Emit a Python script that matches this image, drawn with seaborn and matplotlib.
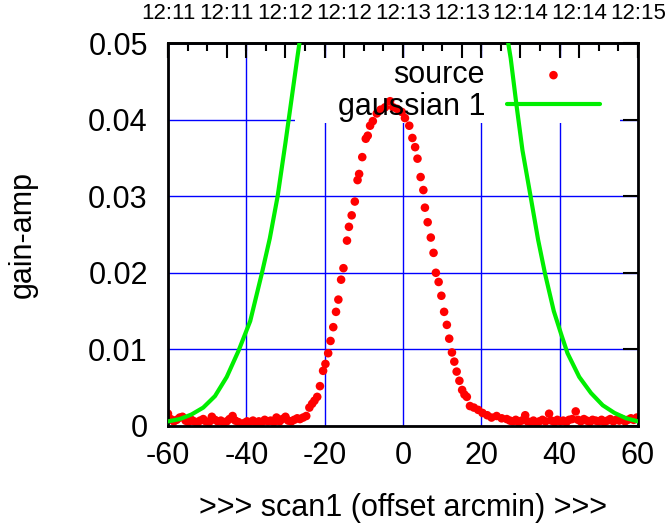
import matplotlib
matplotlib.use("Agg")
import matplotlib.pyplot as plt
from matplotlib.patches import Rectangle
from matplotlib.ticker import MultipleLocator
import seaborn as sns

# measured points (offset arcmin, gain-amp)
source_offset = [
    -60.0, -59.3, -58.5, -57.8, -57.0, -56.3, -55.5, -54.8, -54.0, -53.3,
    -52.5, -51.8, -51.0, -50.3, -49.5, -48.8, -48.0, -47.3, -46.5, -45.8,
    -45.0, -44.3, -43.5, -42.8, -42.0, -41.3, -40.5, -39.8, -39.0, -38.3,
    -37.5, -36.8, -36.0, -35.3, -34.5, -33.8, -33.0, -32.3, -31.5, -30.8,
    -30.0, -29.3, -28.5, -27.8, -27.0, -26.3, -25.5, -24.7, -23.9, -23.2,
    -22.6, -21.9, -21.2, -20.4, -19.8, -19.1, -18.5, -17.8, -17.1, -16.5,
    -15.8, -15.2, -14.3, -13.8, -13.1, -12.3, -11.6, -11.2, -10.4, -9.5,
    -9.0, -8.4, -7.7, -6.7, -5.7, -4.6, -3.3, -2.5, -1.5, -0.3,
    0.5, 1.6, 2.4, 3.1, 3.7, 4.5, 5.2, 5.6, 6.3, 7.1,
    7.8, 8.4, 9.1, 9.8, 10.5, 11.2, 11.8, 12.5, 13.1, 13.7,
    14.4, 15.1, 15.7, 16.3, 17.1, 18.1, 19.2, 20.3, 21.5, 22.6,
    23.9, 25.2, 26.5, 27.3, 28.0, 28.8, 29.5, 30.3, 31.2, 31.8,
    32.6, 33.3, 34.1, 34.8, 35.6, 36.4, 37.3, 37.9, 38.7, 39.4,
    40.2, 40.9, 41.7, 42.4, 43.2, 44.1, 44.7, 45.4, 46.2, 46.9,
    47.7, 48.4, 49.2, 49.9, 50.7, 51.4, 52.2, 52.9, 53.7, 54.4,
    55.2, 55.9, 56.7, 57.4, 58.2, 58.9, 59.7,
]
source_gain = [
    0.0016, 0.0009, 0.0006, 0.0008, 0.0011, 0.0012, 0.0007, 0.0005, 0.0008, 0.0006,
    0.0004, 0.0007, 0.0009, 0.0006, 0.0005, 0.0012, 0.0008, 0.0006, 0.0007, 0.0004,
    0.0006, 0.0009, 0.0013, 0.0007, 0.0005, -0.0002, 0.0004, 0.0006, 0.0005, 0.0007,
    0.0004, 0.0006, 0.0005, 0.0008, 0.0006, 0.0007, 0.0005, 0.0011, 0.0006, 0.0009,
    0.0012, 0.0007, 0.0006, 0.0008, 0.0010, 0.0009, 0.0011, 0.0013, 0.0024, 0.0029,
    0.0033, 0.0038, 0.0052, 0.0072, 0.0081, 0.0095, 0.0111, 0.0129, 0.0149, 0.0165,
    0.0191, 0.0206, 0.0242, 0.0260, 0.0275, 0.0293, 0.0321, 0.0329, 0.0351, 0.0375,
    0.0379, 0.0392, 0.0398, 0.0408, 0.0413, 0.0416, 0.0424, 0.0416, 0.0414, 0.0410,
    0.0402, 0.0392, 0.0376, 0.0364, 0.0349, 0.0325, 0.0308, 0.0285, 0.0266, 0.0246,
    0.0226, 0.0200, 0.0188, 0.0170, 0.0149, 0.0132, 0.0114, 0.0096, 0.0084, 0.0071,
    0.0059, 0.0047, 0.0041, 0.0038, 0.0026, 0.0024, 0.0021, 0.0017, 0.0014, 0.0011,
    0.0013, 0.0010, 0.0009, 0.0007, 0.0006, 0.0008, 0.0005, 0.0007, 0.0014, 0.0006,
    0.0005, 0.0007, 0.0004, 0.0006, 0.0008, 0.0006, 0.0016, 0.0007, 0.0005, 0.0008,
    0.0006, 0.0007, 0.0005, 0.0008, 0.0009, 0.0019, 0.0008, 0.0006, 0.0009, 0.0007,
    0.0005, 0.0008, 0.0007, 0.0006, 0.0008, 0.0005, 0.0007, 0.0009, 0.0006, 0.0008,
    0.0007, 0.0009, 0.0006, 0.0008, 0.0010, 0.0008, 0.0011,
]

# fitted curve, both visible branches
fit_left_offset = [-60, -57, -54, -51, -48, -45, -42, -39, -36, -34, -32, -30, -28.5, -27, -26.3]
fit_left_gain = [0.0006, 0.0009, 0.0015, 0.0024, 0.0039, 0.0064, 0.0098, 0.0137, 0.0200,
                 0.0245, 0.0300, 0.0370, 0.0425, 0.0480, 0.0505]
fit_right_offset = [26.7, 27.5, 29, 30.5, 32.5, 34.5, 36.3, 38.5, 40.5, 42, 45, 48, 51, 54, 57, 60]
fit_right_gain = [0.0505, 0.0480, 0.0418, 0.0360, 0.0302, 0.0243, 0.0198, 0.0150, 0.0118,
                  0.0095, 0.0064, 0.0043, 0.0027, 0.0017, 0.0010, 0.0006]

# time axis on top
time_offset = [-60, -45, -30, -15, 0, 15, 30, 45, 60]
time_labels = ["12:11", "12:11", "12:12", "12:12", "12:13", "12:13", "12:14", "12:14", "12:15"]

x_ticks = [-60, -40, -20, 0, 20, 40, 60]
y_ticks = [0, 0.01, 0.02, 0.03, 0.04, 0.05]
y_tick_labels = ["0", "0.01", "0.02", "0.03", "0.04", "0.05"]

sns.set_theme(style="white")
plt.rcParams['font.family'] = ['Liberation Sans', 'DejaVu Sans']
plt.rcParams['axes.unicode_minus'] = False
plt.rcParams['text.color'] = 'black'
plt.rcParams['axes.labelcolor'] = 'black'
plt.rcParams['xtick.color'] = 'black'
plt.rcParams['ytick.color'] = 'black'

FS = 22

fig = plt.figure(figsize=(6.65, 5.27), dpi=100)
ax = fig.add_axes([0.2526, 0.1917, 0.7068, 0.7267])

sns.scatterplot(x=source_offset, y=source_gain, ax=ax, color='red', s=38,
                edgecolor='none', label='source', zorder=2.5)
sns.lineplot(x=fit_left_offset, y=fit_left_gain, ax=ax, color='#00ee00', lw=3,
             sort=False, label='gaussian 1', zorder=3)
sns.lineplot(x=fit_right_offset, y=fit_right_gain, ax=ax, color='#00ee00', lw=3,
             sort=False, zorder=3)

ax.set_xlim(-60, 60)
ax.set_ylim(0, 0.05)
ax.set_xticks(x_ticks)
ax.set_yticks(y_ticks, y_tick_labels)
ax.set_axisbelow(True)
ax.grid(True, color='blue', lw=1)

for s in ax.spines.values():
    s.set_color('black')
    s.set_linewidth(2)

ax.tick_params(direction='in', length=11, width=1.5, top=True, right=True,
               labelsize=FS, pad=10.5)
ax.tick_params(axis='y', pad=14.5)

# key area hides the grid
ax.add_patch(Rectangle((0.2702, 0.7911), 0.6915, 0.170, transform=ax.transAxes,
                       facecolor='white', edgecolor='none', zorder=1))

sec = ax.secondary_xaxis('top')
sec.set_xticks(time_offset, time_labels)
sec.xaxis.set_minor_locator(MultipleLocator(5))
sec.tick_params(which='major', direction='in', length=11, width=1.5, labelsize=16, pad=13.5)
sec.tick_params(which='minor', direction='in', length=5.5, width=1.5)
sec.spines['top'].set_linewidth(2)

ax.set_xlabel(">>> scan1 (offset arcmin) >>>", fontsize=FS)
ax.set_ylabel("gain-amp", fontsize=FS)
ax.xaxis.set_label_coords(0.5, -0.176)
ax.yaxis.set_label_coords(-0.277, 0.5)

handles, labels = ax.get_legend_handles_labels()
leg1 = ax.legend(handles[:1], labels[:1], loc='center right', bbox_to_anchor=(0.919, 0.916),
                 frameon=False, markerfirst=False, handlelength=3.04, handletextpad=0.72,
                 borderpad=0, borderaxespad=0, fontsize=FS, scatterpoints=1)
ax.add_artist(leg1)
ax.legend(handles[1:2], labels[1:2], loc='center right', bbox_to_anchor=(0.919, 0.833),
          frameon=False, markerfirst=False, handlelength=3.04, handletextpad=0.72,
          borderpad=0, borderaxespad=0, fontsize=FS)

fig.savefig("out.png", dpi=100)
